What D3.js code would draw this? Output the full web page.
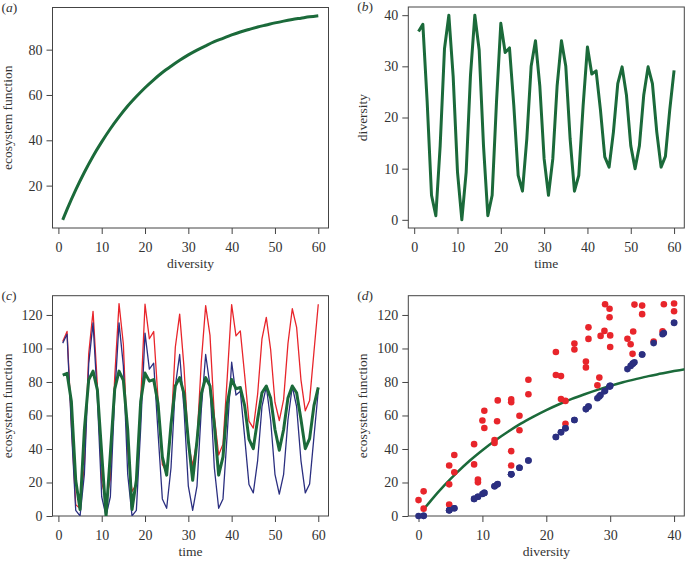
<!DOCTYPE html>
<html><head><meta charset="utf-8">
<script src="https://cdn.jsdelivr.net/npm/d3@7"></script>
<style>
body{margin:0;background:#fff}
svg{display:block}
text{font-family:"Liberation Serif","Times New Roman",serif;fill:#333}
</style>
</head><body>
<svg id="chart" width="685" height="561"></svg>
<script>
// ---------- data ----------
// (a) model curve: ecosystem function vs diversity
const curveDiversity = [1,2,4,6,8,10,12,14,16,18,20,22,24,26,28,30,32,34,36,38,40,42,44,46,48,50,52,54,56,58,60];
const curveFunction  = [4.9,9.5,18.1,25.9,33.0,39.3,45.1,50.3,55.1,59.3,63.2,66.7,69.9,72.7,75.3,77.7,79.8,81.7,83.5,85.0,86.5,87.8,88.9,90.0,90.9,91.8,92.6,93.3,93.9,94.5,95.0];

// (b) diversity through time
const time = [1,2,3,4,5,6,7,8,9,10,11,12,13,14,15,16,17,18,19,20,21,22,23,24,25,26,27,28,29,30,31,32,33,34,35,36,37,38,39,40,41,42,43,44,45,46,47,48,49,50,51,52,53,54,55,56,57,58,59,60];
const diversity = [36.8,38.2,23.0,4.8,0.8,14.5,33.5,40.0,28.0,9.3,0.0,9.3,28.3,40.0,33.2,14.5,0.8,4.8,23.0,38.4,
                   32.7,33.6,22.3,8.7,5.6,15.8,30.0,35.0,26.2,11.9,4.8,11.9,26.2,35.0,30.0,15.8,5.6,8.7,22.3,33.8,
                   28.5,29.1,21.5,12.3,10.3,17.2,26.6,29.9,24.4,14.5,10.0,14.5,24.4,29.9,26.6,17.2,10.3,12.4,21.5,29.2];

// (c) ecosystem function through time: three series
const functionGreen = [84.1,85.2,68.3,21.3,3.9,51.6,81.3,86.5,75.3,37.2,0.0,37.2,75.7,86.5,81.0,51.6,3.9,21.3,68.3,85.3,
                       80.5,81.4,67.2,35.3,24.4,54.6,77.7,82.6,73.0,44.8,21.3,44.8,73.0,82.6,77.7,54.6,24.4,35.3,67.2,81.5,
                       76.0,76.7,65.9,45.9,40.2,57.7,73.6,77.6,70.5,51.6,39.3,51.6,70.5,77.6,73.6,57.7,40.2,46.2,65.9,76.8];
const functionBlue  = [103.2,108.5,52.4,3.4,0.1,24.9,90.8,115.3,70.3,11.5,0.0,11.5,71.4,115.3,89.6,24.9,0.1,3.4,52.4,109.2,
                       87.7,91.2,50.0,10.2,4.6,28.8,77.7,96.4,63.8,17.8,3.4,17.8,63.8,96.4,77.7,28.8,4.6,10.2,50.0,91.8,
                       72.2,74.4,47.2,18.8,13.8,33.1,65.3,77.3,57.3,24.9,13.1,24.9,57.3,77.3,65.3,33.1,13.8,19.1,47.2,74.8];
const functionRed   = [104.1,110.2,55.0,6.8,4.4,30.1,96.8,122.2,78.0,20.1,9.5,21.8,82.6,126.8,102.5,38.7,14.7,18.9,68.7,126.4,
                       105.8,110.1,69.8,30.8,26.1,51.2,100.9,120.5,88.7,43.6,30.1,45.3,92.2,125.6,107.8,59.8,36.4,42.9,83.5,126.2,
                       107.5,110.5,84.2,56.6,52.5,72.7,105.7,118.6,99.4,67.9,57.0,69.6,102.9,123.7,112.6,81.3,62.8,69.0,97.9,126.4];

// tick values
const ticksTime = [0,10,20,30,40,50,60];
const ticksA_y = [20,40,60,80];
const ticksB_y = [0,10,20,30,40];
const ticksC_y = [0,20,40,60,80,100,120];
const ticksD_x = [0,10,20,30,40];

// ---------- style ----------
const GREEN = "#1b6a3a", RED = "#e8252b", BLUE = "#2b2f80";
const FRAME = "#444";
const FS = 13.5, FS_TICK = 14;

const svg = d3.select("#chart");

function panel(box, xDom, yDom, xTicks, yTicks, xTitle, yTitle, letter, id) {
  const g = svg.append("g");
  const x = d3.scaleLinear().domain(xDom).range([box.l, box.r]);
  const y = d3.scaleLinear().domain(yDom).range([box.b, box.t]);
  svg.append("clipPath").attr("id", id).append("rect")
     .attr("x", box.l).attr("y", box.t).attr("width", box.r - box.l).attr("height", box.b - box.t);
  const ax = g.append("g").attr("transform", `translate(0,${box.b})`)
     .call(d3.axisBottom(x).tickValues(xTicks).tickSize(6).tickPadding(8));
  const ay = g.append("g").attr("transform", `translate(${box.l},0)`)
     .call(d3.axisLeft(y).tickValues(yTicks).tickSize(6).tickPadding(4));
  [ax, ay].forEach(a => {
    a.select(".domain").remove();
    a.selectAll("line").attr("stroke", FRAME);
    a.selectAll("text").attr("font-size", FS_TICK).attr("fill", "#333")
     .attr("font-family", '"Liberation Serif", serif');
  });
  g.append("rect").attr("x", box.l).attr("y", box.t)
   .attr("width", box.r - box.l).attr("height", box.b - box.t)
   .attr("fill", "none").attr("stroke", FRAME).attr("stroke-width", 1);
  g.append("text").attr("x", (box.l + box.r) / 2).attr("y", box.b + 40)
   .attr("text-anchor", "middle").attr("font-size", FS).text(xTitle);
  g.append("text").attr("transform", `translate(${box.l - 41},${(box.t + box.b) / 2}) rotate(-90)`)
   .attr("text-anchor", "middle").attr("font-size", FS).text(yTitle);
  const lab = g.append("text").attr("x", box.l - 51).attr("y", box.t + 4).attr("font-size", FS);
  lab.append("tspan").text("(");
  lab.append("tspan").attr("font-style", "italic").text(letter);
  lab.append("tspan").text(")");
  const plot = g.append("g").attr("clip-path", `url(#${id})`);
  return {x, y, plot};
}

// (a)
const A = panel({l:52.5, r:328.5, t:7.5, b:228}, [-1.36, 62.36], [1.3, 98.6],
                ticksTime, ticksA_y, "diversity", "ecosystem function", "a", "clipA");
A.plot.append("path")
  .datum(curveDiversity.map((d, i) => [d, curveFunction[i]]))
  .attr("fill", "none").attr("stroke", GREEN).attr("stroke-width", 3)
  .attr("d", d3.line().x(d => A.x(d[0])).y(d => A.y(d[1])).curve(d3.curveMonotoneX));

// (b)
const B = panel({l:408.3, r:684.3, t:7, b:228}, [-1.36, 62.36], [-1.6, 41.6],
                ticksTime, ticksB_y, "time", "diversity", "b", "clipB");
B.plot.append("path")
  .datum(time.map((t, i) => [t, diversity[i]]))
  .attr("fill", "none").attr("stroke", GREEN).attr("stroke-width", 3).attr("stroke-linejoin", "round")
  .attr("d", d3.line().x(d => B.x(d[0])).y(d => B.y(d[1])));

// (c)
const C = panel({l:52.5, r:328.5, t:295.7, b:516}, [-1.36, 62.36], [0, 131.5],
                ticksTime, ticksC_y, "time", "ecosystem function", "c", "clipC");
const lineC = d3.line().x(d => C.x(d[0])).y(d => C.y(d[1]));
[[functionRed, RED, 1.3], [functionBlue, BLUE, 1.3], [functionGreen, GREEN, 3]].forEach(([vals, col, w]) => {
  C.plot.append("path")
    .datum(time.map((t, i) => [t, vals[i]]))
    .attr("fill", "none").attr("stroke", col).attr("stroke-width", w).attr("stroke-linejoin", "round")
    .attr("d", lineC);
});

// (d)
const D = panel({l:408.3, r:684.3, t:295.7, b:516}, [-1.6, 41.6], [0, 131.5],
                ticksD_x, ticksC_y, "diversity", "ecosystem function", "d", "clipD");
const ptsG = svg.append("g");
ptsG.selectAll("circle.red").data(diversity).enter().append("circle")
  .attr("class", "red").attr("cx", d => D.x(d)).attr("cy", (d, i) => D.y(functionRed[i]))
  .attr("r", 3.3).attr("fill", RED);
ptsG.selectAll("circle.blue").data(diversity).enter().append("circle")
  .attr("class", "blue").attr("cx", d => D.x(d)).attr("cy", (d, i) => D.y(functionBlue[i]))
  .attr("r", 3.3).attr("fill", BLUE);
D.plot.append("path")
  .datum(curveDiversity.map((d, i) => [d, curveFunction[i]]))
  .attr("fill", "none").attr("stroke", GREEN).attr("stroke-width", 2.5)
  .attr("d", d3.line().x(d => D.x(d[0])).y(d => D.y(d[1])).curve(d3.curveMonotoneX));
</script>
</body></html>
